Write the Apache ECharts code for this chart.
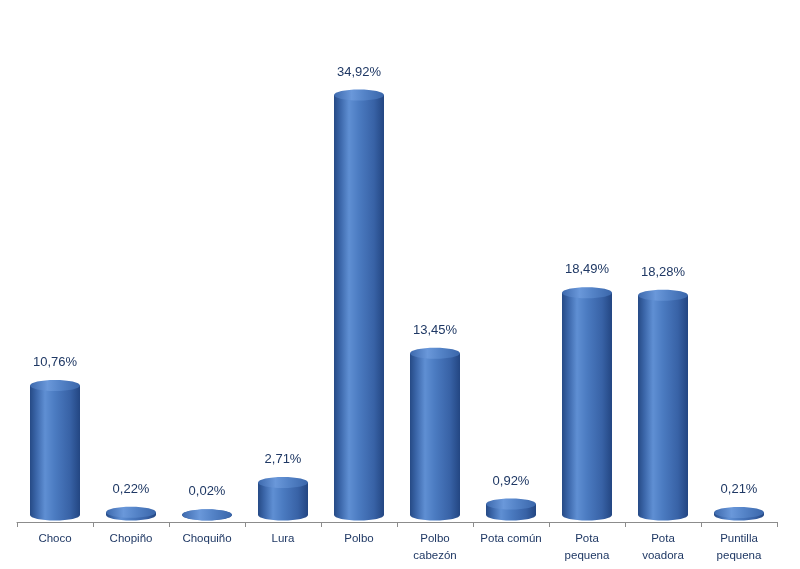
<!DOCTYPE html>
<html>
<head>
<meta charset="utf-8">
<script src="https://cdn.jsdelivr.net/npm/echarts@6/dist/echarts.min.js"></script>
<style>html,body{margin:0;padding:0;background:#fff}#c{width:800px;height:569px}</style>
</head>
<body>
<div id="c"></div>
<script>
var categories = ['Choco', 'Chopiño', 'Choquiño', 'Lura', 'Polbo', 'Polbo\ncabezón', 'Pota común', 'Pota\npequena', 'Pota\nvoadora', 'Puntilla\npequena'];
var values = [10.76, 0.22, 0.02, 2.71, 34.92, 13.45, 0.92, 18.49, 18.28, 0.21];

var chart = echarts.init(document.getElementById('c'));
var bodyGrad = new echarts.graphic.LinearGradient(0, 0, 1, 0, [
  {offset: 0, color: '#264a85'},
  {offset: 0.12, color: '#3a65a8'},
  {offset: 0.3, color: '#5f8fd3'},
  {offset: 0.5, color: '#4b7bc1'},
  {offset: 0.8, color: '#3862a6'},
  {offset: 1, color: '#234682'}
]);
var topGrad = new echarts.graphic.LinearGradient(0, 0, 1, 0, [
  {offset: 0, color: '#3d69ad'},
  {offset: 0.35, color: '#6a98da'},
  {offset: 0.6, color: '#5584c8'},
  {offset: 1, color: '#3a66aa'}
]);
function fmt(v) { return v.toFixed(2).replace('.', ',') + '%'; }

chart.setOption({
  animation: false,
  grid: {left: 17, right: 23, top: 41, bottom: 47},
  xAxis: {
    type: 'category',
    data: categories,
    axisLine: {lineStyle: {color: '#8c8c8c', width: 1}},
    axisTick: {show: true, length: 5, lineStyle: {color: '#8c8c8c'}},
    axisLabel: {interval: 0, color: '#1f3864', fontFamily: 'Liberation Sans, Arial', fontSize: 11.5, lineHeight: 17, margin: 8}
  },
  yAxis: {type: 'value', min: 0, max: 40, show: false, splitLine: {show: false}},
  series: [{
    type: 'custom',
    data: values.map(function (v, i) { return [i, v]; }),
    renderItem: function (params, api) {
      var i = api.value(0), v = api.value(1);
      var base = api.coord([i, 0]);
      var top = api.coord([i, v]);
      var w = 50, ry = 5.5, off = 7;
      var cx = base[0];
      var yb = base[1] - off, yt = top[1] - off;
      return {
        type: 'group',
        children: [
          {type: 'rect', shape: {x: cx - w / 2, y: yt, width: w, height: Math.max(0, yb - yt)}, style: {fill: bodyGrad}},
          {type: 'ellipse', shape: {cx: cx, cy: yb, rx: w / 2, ry: ry}, style: {fill: bodyGrad}},
          {type: 'ellipse', shape: {cx: cx, cy: yt, rx: w / 2, ry: ry}, style: {fill: topGrad}},
          {type: 'text', style: {text: fmt(v), x: cx, y: yt - 23, align: 'center', verticalAlign: 'middle', fill: '#1f3864', font: '13px "Liberation Sans", Arial'}}
        ]
      };
    }
  }]
});
</script>
</body>
</html>
